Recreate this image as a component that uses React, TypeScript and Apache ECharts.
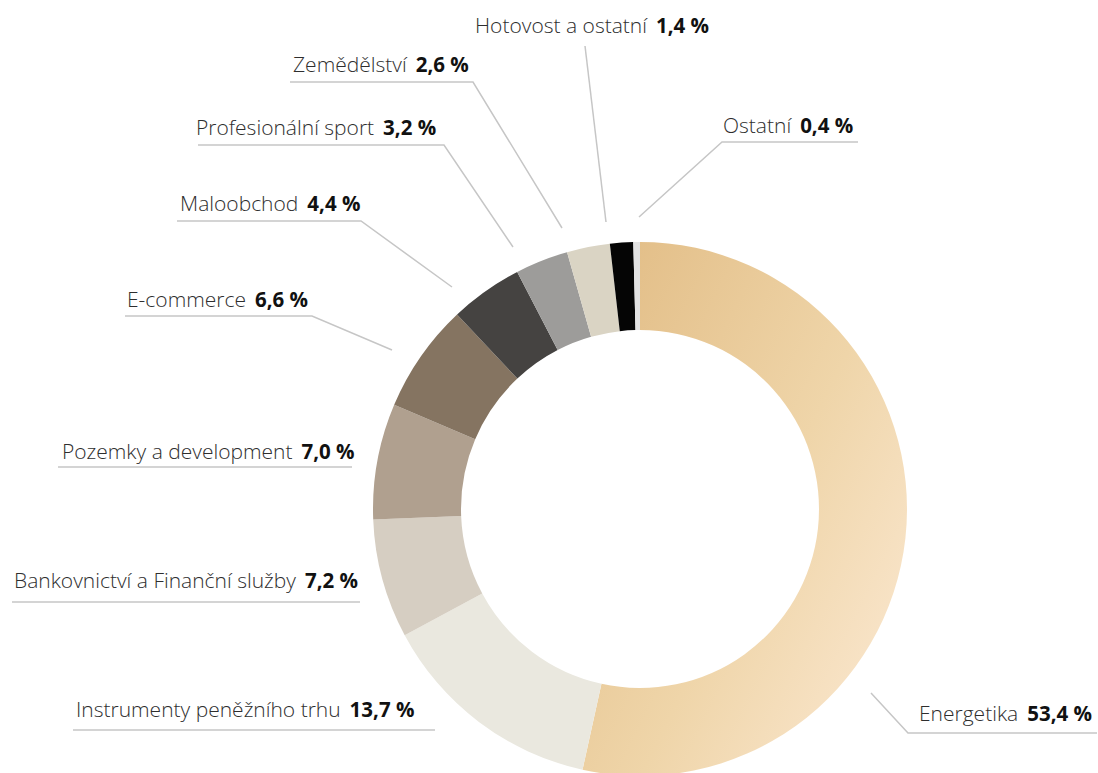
import React, { useEffect, useRef } from "react";
import * as echarts from "echarts";

// ---- data ----
const categories = [
  "Energetika",
  "Instrumenty peněžního trhu",
  "Bankovnictví a Finanční služby",
  "Pozemky a development",
  "E-commerce",
  "Maloobchod",
  "Profesionální sport",
  "Zemědělství",
  "Hotovost a ostatní",
  "Ostatní",
];
const shares = [53.4, 13.7, 7.2, 7.0, 6.6, 4.4, 3.2, 2.6, 1.4, 0.4];

// ---- styles ----
const sliceColors: any[] = [
  new echarts.graphic.LinearGradient(0, 0.1, 1, 0.9, [
    { offset: 0, color: "#e2bd86" },
    { offset: 0.55, color: "#efd5a9" },
    { offset: 1, color: "#fbe8d1" },
  ]),
  "#eae8df",
  "#d6cec2",
  "#b0a08f",
  "#857461",
  "#454341",
  "#9d9c9a",
  "#dad4c4",
  "#050505",
  "#e3e3e3",
];

// ---- label layout (pixel placement of annotation texts and leader lines) ----
type LL = { x: number; y: number; line: number[][] };
const labelLayout: LL[] = [
  { x: 919, y: 713, line: [[871, 693], [908, 733], [1097, 733]] },
  { x: 76, y: 709, line: [[435, 730], [435, 730], [73, 730]] },
  { x: 14, y: 580, line: [[360, 602], [360, 602], [12, 602]] },
  { x: 62, y: 451, line: [[352, 467], [352, 467], [58, 467]] },
  { x: 127, y: 299, line: [[392, 350], [312, 316], [125, 316]] },
  { x: 180, y: 203, line: [[452, 287], [361, 221], [177, 221]] },
  { x: 196, y: 127, line: [[513, 247], [444, 145], [198, 145]] },
  { x: 293, y: 64, line: [[562, 228], [473, 82], [290, 82]] },
  { x: 475, y: 25, line: [[606, 222], [585, 46], [585, 46]] },
  { x: 723, y: 125, line: [[639, 217], [722, 142], [858, 142]] },
];

const fmt = (v: number) => v.toFixed(1).replace(".", ",") + " %";

export default function App() {
  const ref = useRef<HTMLDivElement>(null);
  useEffect(() => {
    document.body.style.margin = "0";
    if (!ref.current) return;
    const chart = echarts.init(ref.current, undefined, { renderer: "svg" });
    chart.setOption({
      animation: false,
      backgroundColor: "#ffffff",
      series: [
        {
          type: "pie",
          center: [640, 509],
          radius: [179, 267],
          startAngle: 90,
          clockwise: true,
          avoidLabelOverlap: false,
          silent: true,
          data: categories.map((name, i) => ({
            name,
            value: shares[i],
            itemStyle: { color: sliceColors[i] },
          })),
          label: {
            show: true,
            position: "outer",
            formatter: (p: any) => `{n|${p.name}}{v|${fmt(p.value)}}`,
            rich: {
              n: {
                fontFamily: "Open Sans",
                fontSize: 21,
                fontWeight: 300,
                color: "#2e2e2e",
              },
              v: {
                fontFamily: "Open Sans",
                fontSize: 20.5,
                fontWeight: "bold",
                color: "#111111",
                padding: [0, 0, 0, 9],
              },
            },
          },
          labelLine: {
            show: true,
            smooth: false,
            lineStyle: { color: "#c6c6c6", width: 1.5 },
          },
          labelLayout: (params: any) => {
            const L = labelLayout[params.dataIndex];
            return {
              x: L.x,
              y: L.y,
              align: "left",
              verticalAlign: "middle",
              labelLinePoints: L.line,
            };
          },
        },
      ],
    });
    return () => chart.dispose();
  }, []);
  return <div ref={ref} style={{ width: 1098, height: 773 }} />;
}
